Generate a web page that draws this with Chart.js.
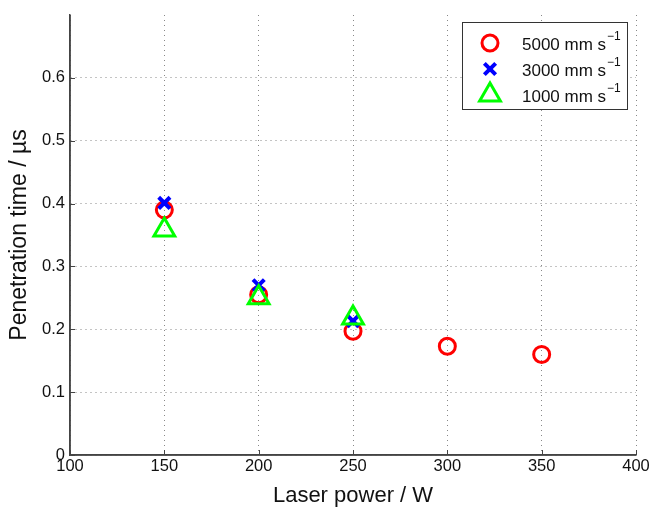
<!DOCTYPE html>
<html>
<head>
<meta charset="utf-8">
<script src="https://cdn.jsdelivr.net/npm/chart.js@4/dist/chart.umd.min.js"></script>
<style>
    html, body { margin: 0; padding: 0; background: #fff; }
    #wrap { width: 652px; height: 509px; }
</style>
</head>
<body>
<div id="wrap"><canvas id="chart"></canvas></div>
<script>
// data
const laserPower = [150, 200, 250, 300, 350];
const time5000 = [0.390, 0.255, 0.197, 0.173, 0.160];
const time3000 = [0.401, 0.270, 0.213];
const time1000 = [0.358, 0.250, 0.218];
const seriesLabels = ['5000 mm s', '3000 mm s', '1000 mm s'];
const xTicks = [100, 150, 200, 250, 300, 350, 400];
const yTicks = [0, 0.1, 0.2, 0.3, 0.4, 0.5, 0.6];

function toPoints(values) {
    return values.map((v, i) => ({ x: laserPower[i], y: v }));
}

const FONT = '"Liberation Sans", Arial, Helvetica, sans-serif';

// legend drawn inside the plot, with a superscript -1 after each label
const boxLegend = {
    id: 'boxLegend',
    afterDatasetsDraw(chart) {
        const ctx = chart.ctx;
        const area = chart.chartArea;
        const w = 165, h = 87;
        const left = area.right - 9 - w;
        const top = area.top + 7;
        ctx.save();
        ctx.fillStyle = '#fff';
        ctx.fillRect(left, top, w, h);
        ctx.strokeStyle = '#333';
        ctx.lineWidth = 1;
        ctx.strokeRect(left + 0.5, top + 0.5, w, h);
        [0, 1, 2].forEach(i => {
            const ds = chart.data.datasets[i];
            const cy = top + 21 + i * 26;
            const cx = left + 28;
            ctx.strokeStyle = ds.borderColor;
            ctx.fillStyle = 'rgba(0,0,0,0)';
            ctx.lineWidth = ds.pointBorderWidth;
            Chart.helpers.drawPoint(ctx, {
                pointStyle: ds.pointStyle,
                radius: ds.pointRadius,
                borderWidth: ds.pointBorderWidth
            }, cx, cy);
            ctx.fillStyle = '#111';
            ctx.textBaseline = 'middle';
            ctx.textAlign = 'left';
            ctx.font = '17px ' + FONT;
            const tx = left + 60;
            ctx.fillText(ds.label, tx, cy + 2);
            const tw = ctx.measureText(ds.label).width;
            ctx.font = '12px ' + FONT;
            ctx.fillText('\u22121', tx + tw + 1, cy - 6);
        });
        ctx.restore();
    }
};

// solid left and bottom axis lines with short inward tick marks
const axisLines = {
    id: 'axisLines',
    afterDatasetsDraw(chart) {
        const ctx = chart.ctx, a = chart.chartArea;
        const xs = chart.scales.x, ys = chart.scales.y;
        ctx.save();
        ctx.strokeStyle = '#444';
        ctx.lineWidth = 1.5;
        ctx.beginPath();
        ctx.moveTo(a.left, a.top);
        ctx.lineTo(a.left, a.bottom);
        ctx.lineTo(a.right, a.bottom);
        ctx.stroke();
        ctx.lineWidth = 1;
        ctx.beginPath();
        xTicks.forEach(v => {
            const px = Math.round(xs.getPixelForValue(v)) + 0.5;
            ctx.moveTo(px, a.bottom);
            ctx.lineTo(px, a.bottom - 5);
        });
        yTicks.forEach(v => {
            const py = Math.round(ys.getPixelForValue(v)) + 0.5;
            ctx.moveTo(a.left, py);
            ctx.lineTo(a.left + 5, py);
        });
        ctx.stroke();
        ctx.restore();
    }
};

const gridColor = ctx => (ctx.tick && Math.abs(ctx.tick.value - 0.7) < 1e-9) ? 'rgba(0,0,0,0)' : '#888';

new Chart(document.getElementById('chart'), {
    type: 'scatter',
    data: {
        datasets: [
            {
                label: seriesLabels[0],
                data: toPoints(time5000),
                pointStyle: 'circle',
                pointRadius: 8,
                pointHoverRadius: 8,
                pointBorderWidth: 3,
                borderColor: '#ff0000',
                backgroundColor: 'rgba(0,0,0,0)',
                order: 2
            },
            {
                label: seriesLabels[1],
                data: toPoints(time3000),
                pointStyle: 'crossRot',
                pointRadius: 8,
                pointHoverRadius: 8,
                pointBorderWidth: 4,
                borderColor: '#0000ff',
                backgroundColor: 'rgba(0,0,0,0)',
                order: 1
            },
            {
                label: seriesLabels[2],
                data: toPoints(time1000),
                pointStyle: 'triangle',
                pointRadius: 12,
                pointHoverRadius: 12,
                pointBorderWidth: 3,
                borderColor: '#00ff00',
                backgroundColor: 'rgba(0,0,0,0)',
                order: 0
            }
        ]
    },
    options: {
        responsive: true,
        maintainAspectRatio: false,
        animation: false,
        layout: { padding: { top: 12, right: 16, left: 6, bottom: 0 } },
        plugins: {
            legend: { display: false },
            tooltip: { enabled: false }
        },
        scales: {
            x: {
                type: 'linear',
                min: 100,
                max: 400,
                afterBuildTicks: axis => { axis.ticks = xTicks.map(v => ({ value: v })); },
                ticks: {
                    color: '#111',
                    font: { family: FONT, size: 16.5 },
                    maxRotation: 0,
                    padding: 2
                },
                grid: {
                    color: '#888',
                    lineWidth: 1,
                    drawTicks: false,
                    tickLength: 0
                },
                border: { display: true, color: '#444', width: 1.5, dash: [1, 4] },
                title: {
                    display: true,
                    text: 'Laser power / W',
                    color: '#111',
                    font: { family: FONT, size: 22 },
                    padding: { top: 0, bottom: 0 }
                },
                afterFit: axis => { axis.height = 54; }
            },
            y: {
                type: 'linear',
                min: 0,
                max: 0.7,
                afterBuildTicks: axis => { axis.ticks = yTicks.concat([0.7]).map(v => ({ value: v })); },
                ticks: {
                    color: '#111',
                    font: { family: FONT, size: 16.5 },
                    padding: 5,
                    callback: v => Math.abs(v - 0.7) < 1e-9 ? '' : (v === 0 ? '0' : v.toFixed(1))
                },
                grid: {
                    color: gridColor,
                    lineWidth: 1,
                    drawTicks: false,
                    tickLength: 0
                },
                border: { display: true, color: '#444', width: 1.5, dash: [1, 4] },
                title: {
                    display: true,
                    text: 'Penetration time / \u00b5s',
                    color: '#111',
                    font: { family: FONT, size: 23 },
                    padding: { top: 0, bottom: 4 }
                },
                afterFit: axis => { axis.width = 64; }
            }
        }
    },
    plugins: [boxLegend, axisLines]
});
</script>
</body>
</html>
